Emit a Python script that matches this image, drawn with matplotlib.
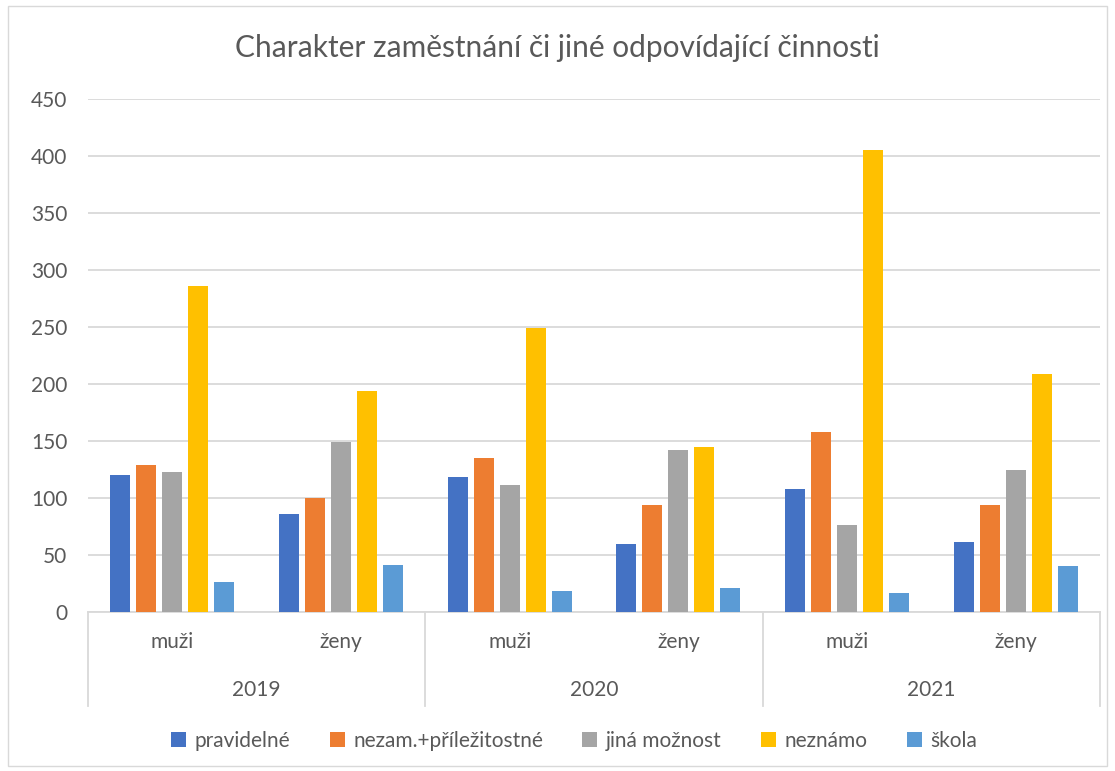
import matplotlib
matplotlib.use('Agg')
import matplotlib.pyplot as plt, numpy as np
from matplotlib.patches import Rectangle

plt.rcParams['font.family'] = ['Lato', 'DejaVu Sans']

# data
years    = ['2019', '2020', '2021']
sexes    = ['muži', 'ženy']
series   = ['pravidelné', 'nezam.+příležitostné', 'jiná možnost', 'neznámo', 'škola']
pravidelne = [120, 86, 118, 60, 108, 61]
nezam      = [129, 100, 135, 94, 158, 94]
jina       = [123, 149, 111, 142, 76, 125]
neznamo    = [286, 194, 249, 145, 405, 209]
skola      = [26, 41, 18, 21, 17, 40]
values = [pravidelne, nezam, jina, neznamo, skola]
colors = ['#4472C4', '#ED7D31', '#A5A5A5', '#FFC000', '#5B9BD5']
txt = '#595959'
grid = '#D9D9D9'

W, H = 1115, 771
fig = plt.figure(figsize=(W/100, H/100), dpi=100)
ax = fig.add_axes([88/W, 1-612/H, (1100-88)/W, (612-99)/H])

ng = len(pravidelne)
x = np.arange(ng) + 0.5
bw = 20/168.7
step = 26/168.7
for k, (name, vals, c) in enumerate(zip(series, values, colors)):
    ax.bar(x + (k-2)*step, vals, width=bw, color=c, label=name, zorder=3)

ax.set_xlim(0, ng)
ax.set_ylim(0, 450)
ax.set_yticks(np.arange(0, 451, 50))
ax.set_xticks([])
ax.grid(axis='y', color=grid, lw=1.3, zorder=0)
for s in ['top', 'right', 'left']:
    ax.spines[s].set_visible(False)
ax.spines['bottom'].set_color(grid)
ax.spines['bottom'].set_linewidth(1.3)
ax.tick_params(axis='y', length=0, labelsize=15, labelcolor=txt, pad=15)

# multi-level category axis
tr = ax.get_xaxis_transform()
for i in range(ng):
    ax.text(x[i], -0.058, sexes[i % 2], transform=tr, ha='center', va='center',
            fontsize=15, color=txt)
for j, y in enumerate(years):
    ax.text(2*j+1, -0.152, y, transform=tr, ha='center', va='center',
            fontsize=15, color=txt)
for b in range(0, ng+1, 2):
    ax.plot([b, b], [0, -0.183], transform=tr, color=grid, lw=1.3, clip_on=False)

fig.text(0.5, 1-48/H, 'Charakter zaměstnání či jiné odpovídající činnosti',
         ha='center', va='center', fontsize=21.5, color=txt)

fig.legend(loc='center', bbox_to_anchor=(0.515, 1-741/H), ncol=5, frameon=False,
           fontsize=15, labelcolor=txt, handlelength=0.72, handleheight=0.72,
           handletextpad=0.4, columnspacing=1.9)

fig.patches.append(Rectangle((8/W, 1-766/H), (W-16)/W, (766-6)/H, transform=fig.transFigure,
                             fill=False, ec=grid, lw=1))

fig.savefig('out.png', dpi=100)
